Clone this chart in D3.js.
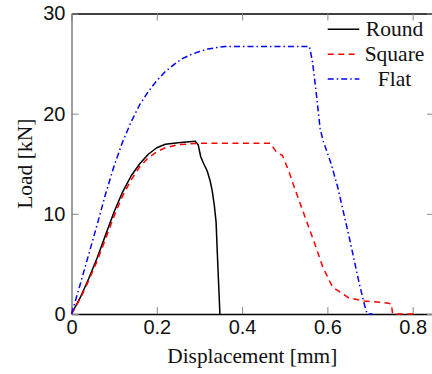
<!DOCTYPE html>
<html>
<head>
<meta charset="utf-8">
<script src="https://cdn.jsdelivr.net/npm/d3@7"></script>
<style>
  body { margin: 0; background: #fff; }
  svg { display: block; font-family: "Liberation Serif", "DejaVu Serif", serif; }
</style>
</head>
<body>
<div id="chart"></div>
<script>
// displacement [mm], load [kN]
const round = [
  [0, 0], [0.02, 1.6], [0.04, 3.5], [0.06, 5.6], [0.08, 7.9], [0.1, 10.2],
  [0.12, 12.2], [0.14, 13.8], [0.16, 15.0], [0.18, 15.95], [0.2, 16.6],
  [0.22, 16.95], [0.25, 17.1], [0.29, 17.25], [0.297, 16.9], [0.303, 15.7],
  [0.31, 15.0], [0.318, 14.3], [0.325, 13.3], [0.33, 12.3], [0.335, 10.8],
  [0.339, 9.2], [0.342, 6.0], [0.345, 3.0], [0.348, 0]
];
const square = [
  [0, 0], [0.02, 1.5], [0.04, 3.3], [0.06, 5.3], [0.08, 7.5], [0.1, 9.8],
  [0.12, 11.8], [0.14, 13.4], [0.16, 14.7], [0.18, 15.6], [0.2, 16.2],
  [0.22, 16.6], [0.25, 16.9], [0.3, 17.05], [0.466, 17.05], [0.48, 16.2],
  [0.495, 15.8], [0.51, 14.2], [0.522, 12.7], [0.55, 9.4], [0.573, 6.7],
  [0.589, 4.7], [0.612, 2.7], [0.65, 1.6], [0.687, 1.3], [0.74, 1.1],
  [0.75, 1.0], [0.753, 0], [0.81, 0]
];
const flat = [
  [0, 0], [0.02, 2.9], [0.04, 5.9], [0.06, 8.9], [0.08, 12.0], [0.1, 14.8],
  [0.12, 17.2], [0.14, 19.2], [0.16, 20.9], [0.18, 22.2], [0.2, 23.3],
  [0.22, 24.2], [0.24, 24.9], [0.26, 25.5], [0.28, 25.9], [0.3, 26.2],
  [0.32, 26.45], [0.34, 26.6], [0.36, 26.7], [0.558, 26.7], [0.565, 25.2],
  [0.573, 22.4], [0.583, 18.5], [0.59, 17.3], [0.608, 15.1], [0.624, 12.7],
  [0.651, 7.7], [0.675, 3.0], [0.69, 0.4], [0.694, 0], [0.706, 0]
];
const seriesNames = ['Round', 'Square', 'Flat'];
const seriesColors = ['#000000', '#ff0000', '#0000ff'];
const seriesDash = [null, '6,4.5', '6,3,1.5,3'];
const xTicks = [0, 0.2, 0.4, 0.6, 0.8];
const yTicks = [0, 10, 20, 30];

const width = 432, height = 374;
const margin = {top: 13.5, right: -2, bottom: 60, left: 71.5};
const cw = width - margin.left - margin.right,
      ch = height - margin.top - margin.bottom;

const x = d3.scaleLinear().domain([0, 0.85]).range([0, cw]);
const y = d3.scaleLinear().domain([0, 30]).range([ch, 0]);

const svg = d3.select('#chart').append('svg')
  .attr('width', width).attr('height', height);

const g = svg.append('g').attr('transform', `translate(${margin.left},${margin.top})`);

// axes, ticks pointing inward
const fs = '20px';
g.append('g').attr('transform', `translate(0,${ch})`)
  .call(d3.axisBottom(x).tickValues(xTicks).tickSize(-7).tickSizeOuter(0).tickPadding(6)
    .tickFormat(d => d === 0 ? '0' : d3.format('.1f')(d)))
  .call(a => a.selectAll('text').attr('font-size', fs).attr('font-family', null).attr('fill', '#111'))
  .call(a => a.selectAll('.tick line').attr('stroke', '#888'))
  .call(a => a.select('.domain').attr('stroke', '#000').attr('stroke-width', 1.3));

g.append('g')
  .call(d3.axisTop(x).tickValues(xTicks).tickSize(-7).tickSizeOuter(0).tickFormat(''))
  .call(a => a.selectAll('.tick line').attr('stroke', '#888'))
  .call(a => a.select('.domain').attr('stroke', '#000').attr('stroke-width', 1.3));

g.append('g')
  .call(d3.axisLeft(y).tickValues(yTicks).tickSize(-7).tickSizeOuter(0).tickPadding(6))
  .call(a => a.selectAll('text').attr('font-size', fs).attr('font-family', null).attr('fill', '#111'))
  .call(a => a.selectAll('.tick line').attr('stroke', '#888'))
  .call(a => a.select('.domain').attr('stroke', '#6a6a6a').attr('stroke-width', 1.3));

g.append('g').attr('transform', `translate(${cw},0)`)
  .call(d3.axisRight(y).tickValues(yTicks).tickSize(-7).tickSizeOuter(0).tickFormat(''))
  .call(a => a.selectAll('.tick line').attr('stroke', '#888'))
  .call(a => a.select('.domain').attr('stroke', '#000').attr('stroke-width', 1.3));

// curves
const line = d3.line().x(d => x(d[0])).y(d => y(d[1]));
const data = [round, square, flat];

g.selectAll('path.curve')
  .data(data)
  .join('path').attr('class', 'curve')
  .attr('d', line)
  .attr('fill', 'none')
  .attr('stroke', (d, i) => seriesColors[i])
  .attr('stroke-width', 1.5)
  .attr('stroke-dasharray', (d, i) => seriesDash[i])
  .attr('stroke-linejoin', 'round');

// legend
const legend = g.append('g').attr('class', 'legend')
  .attr('transform', `translate(${327.7 - margin.left},${29.3 - margin.top})`);

legend.selectAll('g.item')
  .data(seriesNames)
  .join('g').attr('class', 'item')
  .attr('transform', (d, i) => `translate(0,${i * 24.9})`)
  .each(function(d, i) {
    const it = d3.select(this);
    it.append('line')
      .attr('x1', 0).attr('x2', 31.6).attr('y1', 0).attr('y2', 0)
      .attr('stroke', seriesColors[i]).attr('stroke-width', 1.5)
      .attr('stroke-dasharray', seriesDash[i]);
    it.append('text')
      .attr('x', 66.8).attr('y', 0).attr('dy', '0.33em')
      .attr('text-anchor', 'middle').attr('font-size', '21.5px').attr('fill', '#111')
      .text(d);
  });

// axis titles
svg.append('text')
  .attr('x', margin.left + cw / 2 - 0.5).attr('y', 363)
  .attr('text-anchor', 'middle').attr('font-size', '21.5px').attr('fill', '#111')
  .attr('textLength', 170).attr('lengthAdjust', 'spacingAndGlyphs')
  .text('Displacement [mm]');

svg.append('text')
  .attr('transform', `translate(31.5,${margin.top + ch / 2}) rotate(-90)`)
  .attr('text-anchor', 'middle').attr('font-size', '21.5px').attr('fill', '#111')
  .text('Load [kN]');
</script>
</body>
</html>
